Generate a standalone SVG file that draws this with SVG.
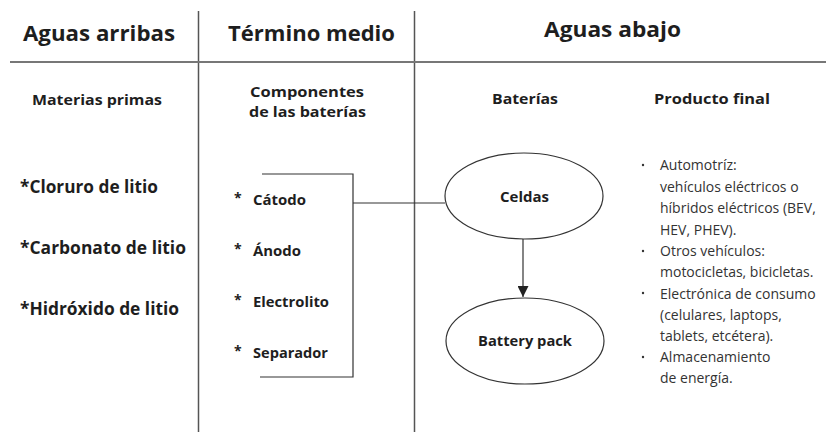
<svg xmlns="http://www.w3.org/2000/svg" width="826" height="434" viewBox="0 0 826 434">
<defs>
<style>
text{font-family:"Open Sans","Noto Sans","Liberation Sans",sans-serif;fill:#1e1e1e}
.h{font-size:21px;font-weight:700}
.s{font-size:15px;font-weight:700}
.m{font-size:17px;font-weight:700}
.c{font-size:14px;font-weight:700}
.n{font-size:14px;font-weight:700}
.l{font-size:14px;font-weight:400;fill:#333}
.grid{stroke:#555;stroke-width:1.5;fill:none}
.hr{stroke:#777;stroke-width:2;fill:none}
.edge{stroke:#333;stroke-width:1.2;fill:none}
.node{stroke:#333;stroke-width:1.2;fill:#fff}
</style>
<marker id="arr" viewBox="0 0 10 10" refX="10" refY="5" markerWidth="11" markerHeight="11" markerUnits="userSpaceOnUse" orient="auto">
<path d="M0,0 L10,5 L0,10 z" fill="#222"/>
</marker>
</defs>
<rect width="826" height="434" fill="#fff"/>
<g id="grid">
<line class="grid" x1="198.5" y1="11" x2="198.5" y2="432"/>
<line class="grid" x1="414.5" y1="11" x2="414.5" y2="432"/>
<line class="hr" x1="10" y1="62" x2="826" y2="62"/>
</g>
<g id="headers">
<text class="h" x="23" y="41" textLength="152" lengthAdjust="spacingAndGlyphs">Aguas arribas</text>
<text class="h" x="228" y="41" textLength="167" lengthAdjust="spacingAndGlyphs">Término medio</text>
<text class="h" x="544" y="37" textLength="137" lengthAdjust="spacingAndGlyphs">Aguas abajo</text>
<text class="s" x="32" y="105" textLength="130" lengthAdjust="spacingAndGlyphs">Materias primas</text>
<text class="s" x="250" y="97" textLength="114" lengthAdjust="spacingAndGlyphs">Componentes</text>
<text class="s" x="249" y="117" textLength="117" lengthAdjust="spacingAndGlyphs">de las baterías</text>
<text class="s" x="492" y="104" textLength="66" lengthAdjust="spacingAndGlyphs">Baterías</text>
<text class="s" x="654" y="104" textLength="116" lengthAdjust="spacingAndGlyphs">Producto final</text>
</g>
<g id="materias">
<text class="m" x="20" y="193" textLength="138" lengthAdjust="spacingAndGlyphs">*Cloruro de litio</text>
<text class="m" x="20" y="254" textLength="166" lengthAdjust="spacingAndGlyphs">*Carbonato de litio</text>
<text class="m" x="20" y="315" textLength="159" lengthAdjust="spacingAndGlyphs">*Hidróxido de litio</text>
</g>
<g id="componentes">
<text class="c" x="234" y="203">*</text>
<text class="c" x="253" y="205" textLength="53" lengthAdjust="spacingAndGlyphs">Cátodo</text>
<text class="c" x="234" y="254">*</text>
<text class="c" x="253" y="256" textLength="48" lengthAdjust="spacingAndGlyphs">Ánodo</text>
<text class="c" x="234" y="305">*</text>
<text class="c" x="253" y="307" textLength="76" lengthAdjust="spacingAndGlyphs">Electrolito</text>
<text class="c" x="234" y="356">*</text>
<text class="c" x="253" y="358" textLength="75" lengthAdjust="spacingAndGlyphs">Separador</text>
</g>
<g id="celdas">
<ellipse class="node" cx="524" cy="196" rx="79" ry="43"/>
<text class="n" x="524.5" y="202" text-anchor="middle" textLength="49" lengthAdjust="spacingAndGlyphs">Celdas</text>
</g>
<g id="battery-pack">
<ellipse class="node" cx="525" cy="341" rx="79" ry="43"/>
<text class="n" x="525" y="346" text-anchor="middle" textLength="94" lengthAdjust="spacingAndGlyphs">Battery pack</text>
</g>
<g id="connectors">
<polyline class="edge" points="262,174 353,174 353,377 260,377"/>
<line class="edge" x1="353" y1="203" x2="445" y2="203"/>
<line class="edge" x1="523" y1="239" x2="523" y2="297" marker-end="url(#arr)"/>
</g>
<g id="producto">
<g fill="#333"><circle cx="643" cy="165" r="1.2"/><circle cx="643" cy="251" r="1.2"/><circle cx="643" cy="293" r="1.2"/><circle cx="643" cy="357" r="1.2"/></g>
<text class="l" x="660" y="170">Automotríz:</text>
<text class="l" x="660" y="191.5">vehículos eléctricos o</text>
<text class="l" x="660" y="213">híbridos eléctricos (BEV,</text>
<text class="l" x="660" y="234.5">HEV, PHEV).</text>
<text class="l" x="660" y="256">Otros vehículos:</text>
<text class="l" x="660" y="276.5">motocicletas, bicicletas.</text>
<text class="l" x="660" y="298.5">Electrónica de consumo</text>
<text class="l" x="660" y="320">(celulares, laptops,</text>
<text class="l" x="660" y="340.5">tablets, etcétera).</text>
<text class="l" x="660" y="361.5">Almacenamiento</text>
<text class="l" x="660" y="383">de energía.</text>
</g>
</svg>
